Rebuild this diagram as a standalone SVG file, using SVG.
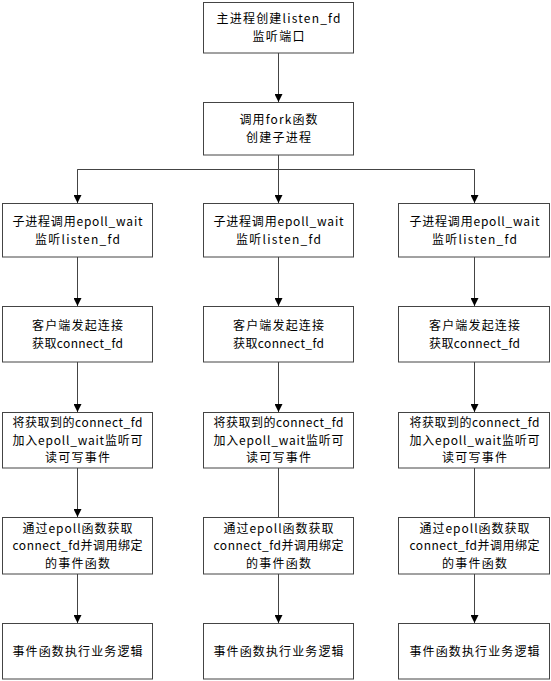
<svg xmlns="http://www.w3.org/2000/svg" width="551" height="681" viewBox="0 0 551 681">
<defs>
<style>
.box{fill:#fff;stroke:#444;stroke-width:1}
.t{font-family:"Noto Sans CJK SC","Liberation Sans",sans-serif;font-size:12px;fill:#000;text-anchor:middle}
.c{fill:none;stroke:#444;stroke-width:1}
</style>
<marker id="ah" markerWidth="8" markerHeight="8" refX="8" refY="4" orient="auto" markerUnits="userSpaceOnUse">
<path d="M0,0 L8,4 L0,8 z" fill="#000"/>
</marker>
</defs>
<rect width="551" height="681" fill="#fff"/>
<g id="connectors">
<line class="c" x1="278.5" y1="53" x2="278.5" y2="102" marker-end="url(#ah)"/>
<polyline class="c" points="278.5,155 278.5,169.5"/>
<polyline class="c" points="77.5,203 77.5,169.5 474.5,169.5 474.5,203"/>
<line class="c" x1="77.5" y1="169.5" x2="77.5" y2="203" marker-end="url(#ah)"/>
<line class="c" x1="278.5" y1="169.5" x2="278.5" y2="203" marker-end="url(#ah)"/>
<line class="c" x1="474.5" y1="169.5" x2="474.5" y2="203" marker-end="url(#ah)"/>
<line class="c" x1="77.5" y1="257" x2="77.5" y2="306" marker-end="url(#ah)"/>
<line class="c" x1="278.5" y1="257" x2="278.5" y2="306" marker-end="url(#ah)"/>
<line class="c" x1="474.5" y1="257" x2="474.5" y2="306" marker-end="url(#ah)"/>
<line class="c" x1="77.5" y1="362" x2="77.5" y2="412" marker-end="url(#ah)"/>
<line class="c" x1="278.5" y1="362" x2="278.5" y2="412" marker-end="url(#ah)"/>
<line class="c" x1="474.5" y1="362" x2="474.5" y2="412" marker-end="url(#ah)"/>
<line class="c" x1="77.5" y1="468" x2="77.5" y2="517" marker-end="url(#ah)"/>
<line class="c" x1="278.5" y1="468" x2="278.5" y2="517"/>
<line class="c" x1="474.5" y1="468" x2="474.5" y2="517"/>
<line class="c" x1="77.5" y1="574" x2="77.5" y2="623" marker-end="url(#ah)"/>
<line class="c" x1="278.5" y1="574" x2="278.5" y2="623" marker-end="url(#ah)"/>
<line class="c" x1="474.5" y1="574" x2="474.5" y2="623" marker-end="url(#ah)"/>
</g>
<g id="n_main">
<rect class="box" x="203.5" y="2.5" width="150" height="50.5"/>
<text class="t" x="278.5" y="23.4" textLength="124" lengthAdjust="spacing">主进程创建listen_fd</text>
<text class="t" x="278.5" y="41" textLength="52" lengthAdjust="spacing">监听端口</text>
</g>
<g id="n_fork">
<rect class="box" x="203.5" y="102.5" width="150" height="52.5"/>
<text class="t" x="278.5" y="124.4" textLength="78" lengthAdjust="spacing">调用fork函数</text>
<text class="t" x="278.5" y="142" textLength="65" lengthAdjust="spacing">创建子进程</text>
</g>
<!-- left column -->
<g id="l1">
<rect class="box" x="2.5" y="203.5" width="150" height="53.5"/>
<text class="t" x="77.5" y="225.9" textLength="130" lengthAdjust="spacing">子进程调用epoll_wait</text>
<text class="t" x="77.5" y="243.5" textLength="85" lengthAdjust="spacing">监听listen_fd</text>
</g>
<g id="l2">
<rect class="box" x="2.5" y="306.5" width="150" height="55.5"/>
<text class="t" x="77.5" y="329.9" textLength="91" lengthAdjust="spacing">客户端发起连接</text>
<text class="t" x="77.5" y="347.5" textLength="91" lengthAdjust="spacing">获取connect_fd</text>
</g>
<g id="l3">
<rect class="box" x="2.5" y="412.5" width="150" height="55.5"/>
<text class="t" x="77.5" y="427.1" textLength="130" lengthAdjust="spacing">将获取到的connect_fd</text>
<text class="t" x="77.5" y="444.7" textLength="130" lengthAdjust="spacing">加入epoll_wait监听可</text>
<text class="t" x="77.5" y="462.3" textLength="65" lengthAdjust="spacing">读可写事件</text>
</g>
<g id="l4">
<rect class="box" x="2.5" y="517.5" width="150" height="56.5"/>
<text class="t" x="77.5" y="532.6" textLength="110" lengthAdjust="spacing">通过epoll函数获取</text>
<text class="t" x="77.5" y="550.2" textLength="130" lengthAdjust="spacing">connect_fd并调用绑定</text>
<text class="t" x="77.5" y="567.8" textLength="65" lengthAdjust="spacing">的事件函数</text>
</g>
<g id="l5">
<rect class="box" x="2.5" y="623.5" width="150" height="55.5"/>
<text class="t" x="77.5" y="655.7" textLength="130" lengthAdjust="spacing">事件函数执行业务逻辑</text>
</g>
<!-- middle column -->
<g id="m1">
<rect class="box" x="203.5" y="203.5" width="150" height="53.5"/>
<text class="t" x="278.5" y="225.9" textLength="130" lengthAdjust="spacing">子进程调用epoll_wait</text>
<text class="t" x="278.5" y="243.5" textLength="85" lengthAdjust="spacing">监听listen_fd</text>
</g>
<g id="m2">
<rect class="box" x="203.5" y="306.5" width="150" height="55.5"/>
<text class="t" x="278.5" y="329.9" textLength="91" lengthAdjust="spacing">客户端发起连接</text>
<text class="t" x="278.5" y="347.5" textLength="91" lengthAdjust="spacing">获取connect_fd</text>
</g>
<g id="m3">
<rect class="box" x="203.5" y="412.5" width="150" height="55.5"/>
<text class="t" x="278.5" y="427.1" textLength="130" lengthAdjust="spacing">将获取到的connect_fd</text>
<text class="t" x="278.5" y="444.7" textLength="130" lengthAdjust="spacing">加入epoll_wait监听可</text>
<text class="t" x="278.5" y="462.3" textLength="65" lengthAdjust="spacing">读可写事件</text>
</g>
<g id="m4">
<rect class="box" x="203.5" y="517.5" width="150" height="56.5"/>
<text class="t" x="278.5" y="532.6" textLength="110" lengthAdjust="spacing">通过epoll函数获取</text>
<text class="t" x="278.5" y="550.2" textLength="130" lengthAdjust="spacing">connect_fd并调用绑定</text>
<text class="t" x="278.5" y="567.8" textLength="65" lengthAdjust="spacing">的事件函数</text>
</g>
<g id="m5">
<rect class="box" x="203.5" y="623.5" width="150" height="55.5"/>
<text class="t" x="278.5" y="655.7" textLength="130" lengthAdjust="spacing">事件函数执行业务逻辑</text>
</g>
<!-- right column -->
<g id="r1">
<rect class="box" x="398.5" y="203.5" width="151" height="53.5"/>
<text class="t" x="474.5" y="225.9" textLength="130" lengthAdjust="spacing">子进程调用epoll_wait</text>
<text class="t" x="474.5" y="243.5" textLength="85" lengthAdjust="spacing">监听listen_fd</text>
</g>
<g id="r2">
<rect class="box" x="398.5" y="306.5" width="151" height="55.5"/>
<text class="t" x="474.5" y="329.9" textLength="91" lengthAdjust="spacing">客户端发起连接</text>
<text class="t" x="474.5" y="347.5" textLength="91" lengthAdjust="spacing">获取connect_fd</text>
</g>
<g id="r3">
<rect class="box" x="398.5" y="412.5" width="151" height="55.5"/>
<text class="t" x="474.5" y="427.1" textLength="130" lengthAdjust="spacing">将获取到的connect_fd</text>
<text class="t" x="474.5" y="444.7" textLength="130" lengthAdjust="spacing">加入epoll_wait监听可</text>
<text class="t" x="474.5" y="462.3" textLength="65" lengthAdjust="spacing">读可写事件</text>
</g>
<g id="r4">
<rect class="box" x="398.5" y="517.5" width="151" height="56.5"/>
<text class="t" x="474.5" y="532.6" textLength="110" lengthAdjust="spacing">通过epoll函数获取</text>
<text class="t" x="474.5" y="550.2" textLength="130" lengthAdjust="spacing">connect_fd并调用绑定</text>
<text class="t" x="474.5" y="567.8" textLength="65" lengthAdjust="spacing">的事件函数</text>
</g>
<g id="r5">
<rect class="box" x="398.5" y="623.5" width="151" height="55.5"/>
<text class="t" x="474.5" y="655.7" textLength="130" lengthAdjust="spacing">事件函数执行业务逻辑</text>
</g>
</svg>
